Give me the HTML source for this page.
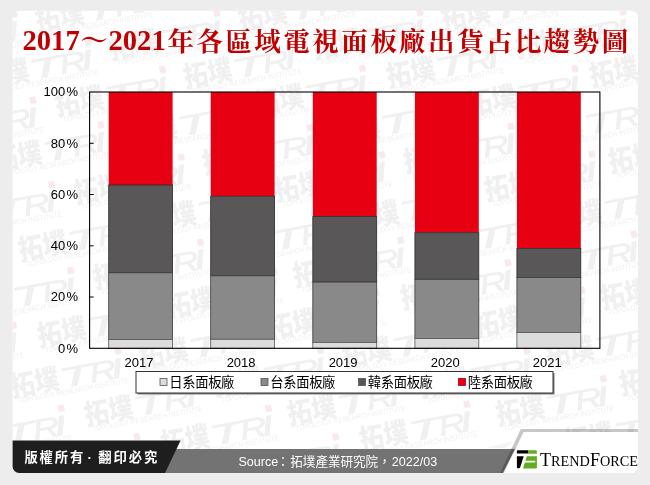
<!DOCTYPE html>
<html lang="zh-Hant">
<head>
<meta charset="utf-8">
<title>2017～2021年各區域電視面板廠出貨占比趨勢圖</title>
<style>
html,body{margin:0;padding:0;background:#ededed;}
body{width:650px;height:485px;overflow:hidden;position:relative;}
svg{display:block;position:absolute;left:0;top:0;}
.sans{font-family:"Liberation Sans","Noto Sans CJK TC","Noto Sans CJK SC",sans-serif;}
.serif{font-family:"Liberation Serif","Noto Serif CJK SC",serif;}
</style>
</head>
<body>
<svg width="650" height="485" viewBox="0 0 650 485">
<defs>
<clipPath id="card"><rect x="12.6" y="10.8" width="625.4" height="462.2" rx="6.5" ry="6.5"/></clipPath>
<g id="wm" fill="#f0f0f0" stroke="#f0f0f0">
<text class="sans" x="-112" y="22.4" font-size="24.5" font-weight="900" letter-spacing="-0.3" stroke="none" transform="scale(1,1.16)">拓墣</text>
<text class="sans" y="26.3" font-size="28" font-style="italic" stroke-width="0.5"><tspan x="-64" textLength="36" lengthAdjust="spacingAndGlyphs">T</tspan><tspan x="-32" textLength="27" lengthAdjust="spacingAndGlyphs">R</tspan><tspan x="-9.5" font-size="36" textLength="11.5" lengthAdjust="spacingAndGlyphs">i</tspan></text>
<rect x="-3.2" y="-3.6" width="6" height="6" fill="#fbe8e8" stroke="none"/>
<text class="sans" x="-107" y="33" font-size="7.6" stroke="none" textLength="112" lengthAdjust="spacingAndGlyphs">TOPOLOGY RESEARCH INSTITUTE</text>
</g>
</defs>
<rect x="0" y="0" width="650" height="485" fill="#ededed"/>
<g clip-path="url(#card)">
<rect x="12" y="10" width="627" height="464" fill="#ffffff"/>
<use href="#wm" transform="translate(143.0,-14.9) rotate(-10.5)"/>
<use href="#wm" transform="translate(346.0,-15.7) rotate(-10.5)"/>
<use href="#wm" transform="translate(549.0,-16.5) rotate(-10.5)"/>
<use href="#wm" transform="translate(752.0,-17.3) rotate(-10.5)"/>
<use href="#wm" transform="translate(14.0,14.3) rotate(-10.5)"/>
<use href="#wm" transform="translate(217.0,13.5) rotate(-10.5)"/>
<use href="#wm" transform="translate(420.0,12.7) rotate(-10.5)"/>
<use href="#wm" transform="translate(623.0,11.9) rotate(-10.5)"/>
<use href="#wm" transform="translate(88.0,42.7) rotate(-10.5)"/>
<use href="#wm" transform="translate(291.0,41.9) rotate(-10.5)"/>
<use href="#wm" transform="translate(494.0,41.1) rotate(-10.5)"/>
<use href="#wm" transform="translate(697.0,40.3) rotate(-10.5)"/>
<use href="#wm" transform="translate(162.7,69.8) rotate(-10.5)"/>
<use href="#wm" transform="translate(362.5,68.5) rotate(-10.5)"/>
<use href="#wm" transform="translate(575.0,68.9) rotate(-10.5)"/>
<use href="#wm" transform="translate(33.0,100.3) rotate(-10.5)"/>
<use href="#wm" transform="translate(236.0,99.5) rotate(-10.5)"/>
<use href="#wm" transform="translate(439.0,98.7) rotate(-10.5)"/>
<use href="#wm" transform="translate(642.0,97.9) rotate(-10.5)"/>
<use href="#wm" transform="translate(101.0,125.0) rotate(-10.5)"/>
<use href="#wm" transform="translate(310.0,127.9) rotate(-10.5)"/>
<use href="#wm" transform="translate(511.0,126.5) rotate(-10.5)"/>
<use href="#wm" transform="translate(716.0,126.3) rotate(-10.5)"/>
<use href="#wm" transform="translate(181.3,157.5) rotate(-10.5)"/>
<use href="#wm" transform="translate(382.0,155.0) rotate(-10.5)"/>
<use href="#wm" transform="translate(592.0,154.5) rotate(-10.5)"/>
<use href="#wm" transform="translate(51.7,184.7) rotate(-10.5)"/>
<use href="#wm" transform="translate(255.0,185.5) rotate(-10.5)"/>
<use href="#wm" transform="translate(458.0,184.7) rotate(-10.5)"/>
<use href="#wm" transform="translate(661.0,183.9) rotate(-10.5)"/>
<use href="#wm" transform="translate(126.0,214.7) rotate(-10.5)"/>
<use href="#wm" transform="translate(329.0,213.9) rotate(-10.5)"/>
<use href="#wm" transform="translate(532.0,213.1) rotate(-10.5)"/>
<use href="#wm" transform="translate(-3.0,243.9) rotate(-10.5)"/>
<use href="#wm" transform="translate(200.7,242.5) rotate(-10.5)"/>
<use href="#wm" transform="translate(400.7,240.5) rotate(-10.5)"/>
<use href="#wm" transform="translate(70.7,270.7) rotate(-10.5)"/>
<use href="#wm" transform="translate(274.0,271.5) rotate(-10.5)"/>
<use href="#wm" transform="translate(145.0,300.7) rotate(-10.5)"/>
<use href="#wm" transform="translate(13.6,325.7) rotate(-10.5)"/>
<use href="#wm" transform="translate(763.0,205.2) rotate(-10.5)"/>
<use href="#wm" transform="translate(634.0,234.4) rotate(-10.5)"/>
<use href="#wm" transform="translate(508.0,263.0) rotate(-10.5)"/>
<use href="#wm" transform="translate(708.0,262.8) rotate(-10.5)"/>
<use href="#wm" transform="translate(376.0,292.8) rotate(-10.5)"/>
<use href="#wm" transform="translate(582.0,290.5) rotate(-10.5)"/>
<use href="#wm" transform="translate(247.0,322.0) rotate(-10.5)"/>
<use href="#wm" transform="translate(450.0,321.2) rotate(-10.5)"/>
<use href="#wm" transform="translate(653.0,320.4) rotate(-10.5)"/>
<use href="#wm" transform="translate(118.0,351.2) rotate(-10.5)"/>
<use href="#wm" transform="translate(320.5,350.5) rotate(-10.5)"/>
<use href="#wm" transform="translate(527.0,351.2) rotate(-10.5)"/>
<use href="#wm" transform="translate(727.0,348.8) rotate(-10.5)"/>
<use href="#wm" transform="translate(192.0,379.6) rotate(-10.5)"/>
<use href="#wm" transform="translate(395.0,378.8) rotate(-10.5)"/>
<use href="#wm" transform="translate(603.5,379.0) rotate(-10.5)"/>
<use href="#wm" transform="translate(61.2,408.4) rotate(-10.5)"/>
<use href="#wm" transform="translate(268.5,408.4) rotate(-10.5)"/>
<use href="#wm" transform="translate(467.0,404.5) rotate(-10.5)"/>
<use href="#wm" transform="translate(672.0,406.4) rotate(-10.5)"/>
<use href="#wm" transform="translate(137.0,437.0) rotate(-10.5)"/>
<use href="#wm" transform="translate(335.8,437.0) rotate(-10.5)"/>
<use href="#wm" transform="translate(543.0,435.6) rotate(-10.5)"/>
<use href="#wm" transform="translate(746.0,434.8) rotate(-10.5)"/>
<use href="#wm" transform="translate(8.0,466.4) rotate(-10.5)"/>
<use href="#wm" transform="translate(211.0,465.6) rotate(-10.5)"/>
<use href="#wm" transform="translate(414.0,464.8) rotate(-10.5)"/>
<use href="#wm" transform="translate(617.0,464.0) rotate(-10.5)"/>
<use href="#wm" transform="translate(82.0,494.8) rotate(-10.5)"/>
<use href="#wm" transform="translate(285.0,494.0) rotate(-10.5)"/>
<use href="#wm" transform="translate(488.0,493.2) rotate(-10.5)"/>
<use href="#wm" transform="translate(691.0,492.4) rotate(-10.5)"/>

<polygon points="485,448 514,441 505,448" fill="#f3f3f3"/>
<polygon points="150,449 515,449 502.9,473 150,473" fill="#737373"/>
<polygon points="12,440.5 180.6,440.5 165,473 12,473" fill="#1e1e1e"/>
<polygon points="523.6,432 640,432 640,474 503.3,474" fill="#ffffff"/>
<polygon points="520.8,429 640,429 640,432 523.6,432 503.3,474 499.6,474" fill="#000000" fill-opacity="0.22"/>
</g>
<text class="serif" y="50" font-weight="700" fill="#c00000"><tspan x="22.5" font-size="28.6">2017</tspan><tspan x="80.5" font-size="27.5">～</tspan><tspan x="108.5" font-size="28.6">2021</tspan><tspan x="167.5" y="50.5" font-size="26.5" letter-spacing="2.45">年各區域電視面板廠出貨占比趨勢圖</tspan></text>
<rect x="108.7" y="92" width="63.9" height="93.0" fill="#e60012"/>
<rect x="108.7" y="185.0" width="63.9" height="87.8" fill="#595757" stroke="#2a2a2a" stroke-width="0.8"/>
<rect x="108.7" y="272.8" width="63.9" height="66.8" fill="#898989" stroke="#3a3a3a" stroke-width="0.8"/>
<rect x="108.7" y="339.6" width="63.9" height="8.7" fill="#dcdcdc" stroke="#555" stroke-width="0.8"/>
<rect x="210.7" y="92" width="63.9" height="104.3" fill="#e60012"/>
<rect x="210.7" y="196.3" width="63.9" height="79.5" fill="#595757" stroke="#2a2a2a" stroke-width="0.8"/>
<rect x="210.7" y="275.8" width="63.9" height="63.5" fill="#898989" stroke="#3a3a3a" stroke-width="0.8"/>
<rect x="210.7" y="339.3" width="63.9" height="9.0" fill="#dcdcdc" stroke="#555" stroke-width="0.8"/>
<rect x="312.8" y="92" width="63.9" height="124.6" fill="#e60012"/>
<rect x="312.8" y="216.6" width="63.9" height="65.5" fill="#595757" stroke="#2a2a2a" stroke-width="0.8"/>
<rect x="312.8" y="282.1" width="63.9" height="60.3" fill="#898989" stroke="#3a3a3a" stroke-width="0.8"/>
<rect x="312.8" y="342.4" width="63.9" height="5.9" fill="#dcdcdc" stroke="#555" stroke-width="0.8"/>
<rect x="414.9" y="92" width="63.9" height="140.7" fill="#e60012"/>
<rect x="414.9" y="232.7" width="63.9" height="46.6" fill="#595757" stroke="#2a2a2a" stroke-width="0.8"/>
<rect x="414.9" y="279.3" width="63.9" height="59.2" fill="#898989" stroke="#3a3a3a" stroke-width="0.8"/>
<rect x="414.9" y="338.5" width="63.9" height="9.8" fill="#dcdcdc" stroke="#555" stroke-width="0.8"/>
<rect x="516.9" y="92" width="63.9" height="156.4" fill="#e60012"/>
<rect x="516.9" y="248.4" width="63.9" height="29.0" fill="#595757" stroke="#2a2a2a" stroke-width="0.8"/>
<rect x="516.9" y="277.4" width="63.9" height="55.2" fill="#898989" stroke="#3a3a3a" stroke-width="0.8"/>
<rect x="516.9" y="332.6" width="63.9" height="15.7" fill="#dcdcdc" stroke="#555" stroke-width="0.8"/>
<rect x="89.6" y="92" width="510.29999999999995" height="256.3" fill="none" stroke="#000" stroke-width="1.1"/>
<text class="sans" x="78" y="352.5" font-size="13" text-anchor="end" fill="#000">0<tspan dx="1.3">%</tspan></text>
<line x1="89.6" y1="297.0" x2="93.6" y2="297.0" stroke="#000" stroke-width="1"/>
<text class="sans" x="78" y="301.2" font-size="13" text-anchor="end" fill="#000">20<tspan dx="1.3">%</tspan></text>
<line x1="89.6" y1="245.8" x2="93.6" y2="245.8" stroke="#000" stroke-width="1"/>
<text class="sans" x="78" y="250.0" font-size="13" text-anchor="end" fill="#000">40<tspan dx="1.3">%</tspan></text>
<line x1="89.6" y1="194.5" x2="93.6" y2="194.5" stroke="#000" stroke-width="1"/>
<text class="sans" x="78" y="198.7" font-size="13" text-anchor="end" fill="#000">60<tspan dx="1.3">%</tspan></text>
<line x1="89.6" y1="143.3" x2="93.6" y2="143.3" stroke="#000" stroke-width="1"/>
<text class="sans" x="78" y="147.5" font-size="13" text-anchor="end" fill="#000">80<tspan dx="1.3">%</tspan></text>
<text class="sans" x="78" y="96.2" font-size="13" text-anchor="end" fill="#000">100<tspan dx="1.3">%</tspan></text>
<text class="sans" x="139.0" y="367.3" font-size="13" text-anchor="middle" fill="#000">2017</text>
<text class="sans" x="241.1" y="367.3" font-size="13" text-anchor="middle" fill="#000">2018</text>
<text class="sans" x="343.1" y="367.3" font-size="13" text-anchor="middle" fill="#000">2019</text>
<text class="sans" x="445.2" y="367.3" font-size="13" text-anchor="middle" fill="#000">2020</text>
<text class="sans" x="547.3" y="367.3" font-size="13" text-anchor="middle" fill="#000">2021</text>
<rect x="137.5" y="373" width="417" height="21.5" fill="#7f7f7f"/>
<rect x="136" y="371.5" width="417" height="21.5" fill="#ffffff" stroke="#333" stroke-width="1"/>
<rect x="160" y="378.5" width="7" height="7" fill="#dcdcdc" stroke="#555" stroke-width="0.8"/>
<text class="sans" x="169.3" y="387.3" font-size="13.3" letter-spacing="-0.35" fill="#000">日系面板廠</text>
<rect x="261" y="378.5" width="7" height="7" fill="#898989" stroke="#555" stroke-width="0.8"/>
<text class="sans" x="270.3" y="387.3" font-size="13.3" letter-spacing="-0.35" fill="#000">台系面板廠</text>
<rect x="358.5" y="378.5" width="7" height="7" fill="#595757" stroke="#555" stroke-width="0.8"/>
<text class="sans" x="367.8" y="387.3" font-size="13.3" letter-spacing="-0.35" fill="#000">韓系面板廠</text>
<rect x="458.5" y="378.5" width="7" height="7" fill="#e60012" stroke="#b0000c" stroke-width="0.8"/>
<text class="sans" x="467.8" y="387.3" font-size="13.3" letter-spacing="-0.35" fill="#000">陸系面板廠</text>
<text class="sans" y="461.8" font-size="13.3" font-weight="700" letter-spacing="1.9" fill="#ffffff"><tspan x="24.4">版權所有</tspan><tspan x="87.5">·</tspan><tspan x="98.3">翻印必究</tspan></text>
<text class="sans" y="465.6" font-size="12.55" fill="#ffffff"><tspan x="238.4">Source</tspan><tspan x="276.7">：</tspan><tspan x="290.3">拓墣產業研究院</tspan><tspan x="378.2">，</tspan><tspan x="391.8">2022/03</tspan></text>
<g>
<path d="M517.6,450.2 L528.6,450.2 L527.8,453.5 L516.9,453.5 L516.9,450.9 Q516.9,450.2 517.6,450.2 Z" fill="#000"/>
<path d="M516.9,456.3 L523.7,456.3 L520.2,467.2 Q519.9,468.2 518.9,468.2 L517.7,468.2 Q516.9,468.2 516.9,467.4 Z" fill="#000"/>
<path d="M528.6,450.2 L535.7,450.2 Q536.9,450.2 536.9,451.4 L536.9,453.7 L527.8,453.7 Z" fill="#62ac1e"/>
<path d="M526.8,456.3 L536.9,456.3 L536.9,467.6 Q536.9,468.4 536.1,468.4 L523,468.4 L524.9,462.4 L535.2,462.4 L535.2,460.8 L525.4,460.8 Z" fill="#62ac1e"/>
</g>
<text class="serif" x="540" y="466" font-size="18.3" fill="#000" textLength="98" lengthAdjust="spacingAndGlyphs">T<tspan font-size="14.4">REND</tspan>F<tspan font-size="14.4">ORCE</tspan></text>
</svg>
</body>
</html>
